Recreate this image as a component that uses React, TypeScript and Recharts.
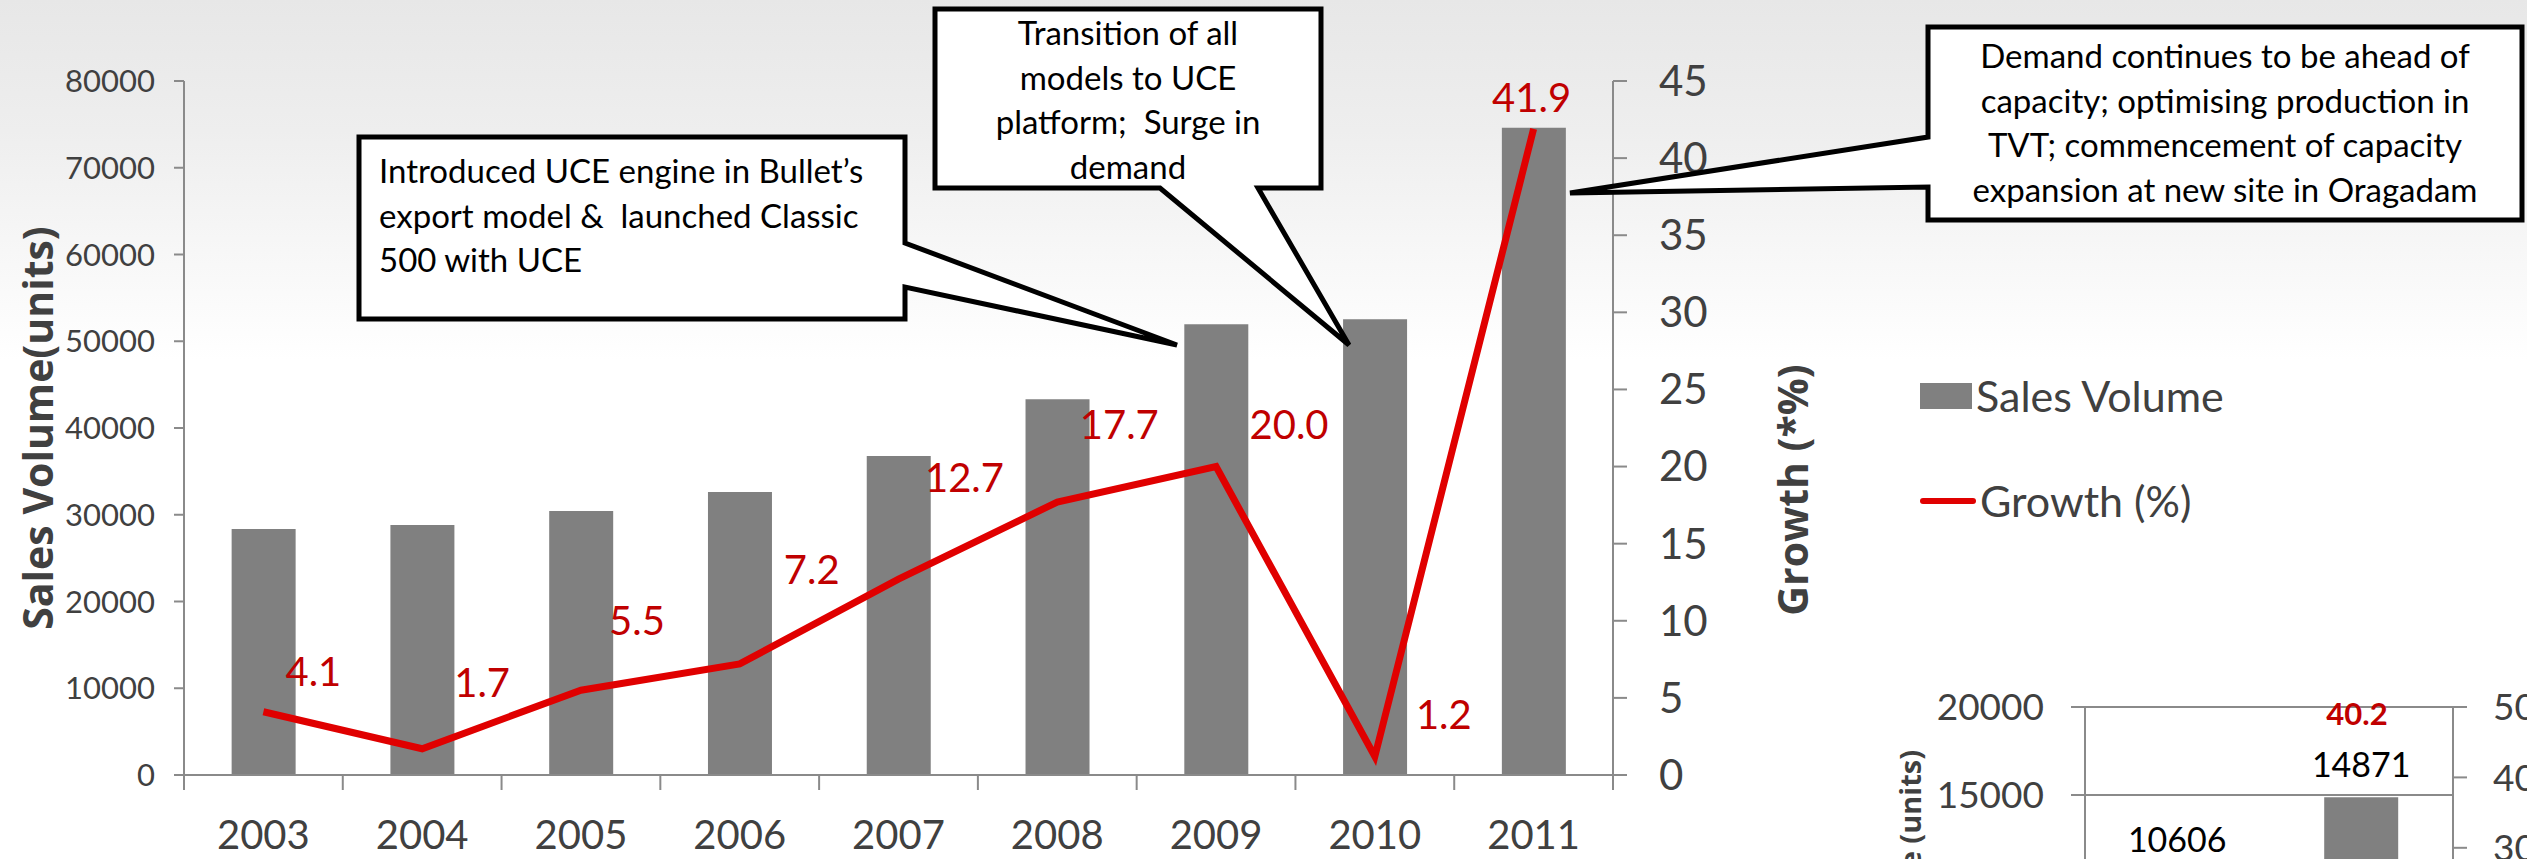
import React from "react";
import {
  Bar,
  CartesianGrid,
  ComposedChart,
  LabelList,
  Legend,
  Line,
  XAxis,
  YAxis,
} from "recharts";

// ---- data ----
const years = ["2003", "2004", "2005", "2006", "2007", "2008", "2009", "2010", "2011"];
const salesVolume = [28350, 28820, 30430, 32620, 36770, 43310, 51950, 52530, 74620];
const growthPct = [4.1, 1.7, 5.5, 7.2, 12.7, 17.7, 20.0, 1.2, 41.9];
const salesTicks = [0, 10000, 20000, 30000, 40000, 50000, 60000, 70000, 80000];
const growthTicks = [0, 5, 10, 15, 20, 25, 30, 35, 40, 45];

// second chart, mostly cut off by the slide edge
const miniPeriods = ["P1", "P2"];
const miniSales = [10606, 14871];
const miniGrowth = [null, 40.2];
const miniSalesTicks = [0, 5000, 10000, 15000, 20000];
const miniGrowthTicks = [0, 10, 20, 30, 40, 50];

// hand placed growth labels (dx, dy from the point), as on the slide
const growthLabelShift = [
  [50, -41], [60, -67], [56, -70], [72, -95], [66, -102],
  [62, -78], [73, -43], [69, -42], [-2, -32],
];

const W = 2527;
const H = 859;
const FONT = "Lato, 'Open Sans', Arial, sans-serif";
const TITLE_FONT = "'Open Sans', Lato, Arial, sans-serif";
const AXIS_GREY = "#8a8a8a";
const TEXT_GREY = "#404040";
const BAR_GREY = "#808080";
const LINE_RED = "#E00000";
const LABEL_RED = "#C00000";

// main plot box
const M_TOP = 81;
const M_LEFT = 84;
const LEFT_AXIS_W = 100;
const RIGHT_AXIS_W = 150;
const M_RIGHT = 764;
const X_AXIS_H = 84;
const PLOT_LEFT = M_LEFT + LEFT_AXIS_W;
const PLOT_RIGHT = W - M_RIGHT - RIGHT_AXIS_W;
const PLOT_BOTTOM = H - X_AXIS_H;
const BAND = (PLOT_RIGHT - PLOT_LEFT) / years.length;

const data = years.map((year, i) => ({
  year,
  sales: salesVolume[i],
  growth: growthPct[i],
}));

const miniData = miniPeriods.map((p, i) => ({
  period: p,
  sales: miniSales[i],
  growth: miniGrowth[i],
}));

const callouts = [
  {
    outline: [[359, 137], [905, 137], [905, 243], [1177, 345], [905, 287], [905, 319], [359, 319]],
    lines: ["Introduced UCE engine in Bullet\u2019s", "export model &  launched Classic", "500 with UCE"],
    anchor: "start",
    x: 379,
    y: 183,
  },
  {
    outline: [[935, 9], [1321, 9], [1321, 188], [1258, 188], [1349, 345], [1160, 188], [935, 188]],
    lines: ["Transition of all", "models to UCE", "platform;  Surge in", "demand"],
    anchor: "middle",
    x: 1128,
    y: 45,
  },
  {
    outline: [[1928, 27], [2522, 27], [2522, 220], [1928, 220], [1928, 187], [1570, 193], [1928, 137]],
    lines: [
      "Demand continues to be ahead of",
      "capacity; optimising production in",
      "TVT; commencement of capacity",
      "expansion at new site in Oragadam",
    ],
    anchor: "middle",
    x: 2225,
    y: 68,
  },
];

const YearTick = (props: any) => {
  const { x, payload } = props;
  const half = BAND / 2;
  const last = payload.value === years[years.length - 1];
  return (
    <g>
      <line x1={x - half} x2={x - half} y1={PLOT_BOTTOM} y2={PLOT_BOTTOM + 15} stroke={AXIS_GREY} strokeWidth={2} />
      {last && (
        <line x1={x + half} x2={x + half} y1={PLOT_BOTTOM} y2={PLOT_BOTTOM + 15} stroke={AXIS_GREY} strokeWidth={2} />
      )}
      <text x={x} y={849} textAnchor="middle" fontFamily={FONT} fontSize={40} fill={TEXT_GREY}>
        {payload.value}
      </text>
    </g>
  );
};

const GrowthLabel = (props: any) => {
  const { value } = props;
  if (value == null) return null;
  const px = props.x ?? props.viewBox?.x;
  const py = props.y ?? props.viewBox?.y;
  let i = typeof props.index === "number" ? props.index : growthPct.indexOf(value);
  if (i < 0) i = 0;
  const [dx, dy] = growthLabelShift[i];
  return (
    <text
      x={px + dx}
      y={py + dy}
      textAnchor="middle"
      dominantBaseline="central"
      fontFamily={FONT}
      fontSize={40}
      fill={LABEL_RED}
    >
      {Number(value).toFixed(1)}
    </text>
  );
};

const MiniGrowthLabel = (props: any) => {
  const { value } = props;
  if (value == null) return null;
  const px = props.x ?? props.viewBox?.x;
  const py = props.y ?? props.viewBox?.y;
  return (
    <text
      x={px - 4}
      y={py - 63}
      textAnchor="middle"
      dominantBaseline="central"
      fontFamily={FONT}
      fontSize={31}
      fontWeight="bold"
      fill={LABEL_RED}
    >
      {Number(value).toFixed(1)}
    </text>
  );
};

const LeftTitle = (props: any) => {
  const vb = props.viewBox;
  const cy = vb.y + vb.height / 2;
  return (
    <text
      x={53}
      y={cy}
      transform={`rotate(-90 53 ${cy})`}
      textAnchor="middle"
      fontFamily={TITLE_FONT}
      fontWeight="bold"
      fontSize={41}
      fill={TEXT_GREY}
    >
      Sales Volume(units)
    </text>
  );
};

const RightTitle = () => {
  const cx = 1808;
  const cy = 490;
  return (
    <text
      x={cx}
      y={cy}
      transform={`rotate(-90 ${cx} ${cy})`}
      textAnchor="middle"
      fontFamily={TITLE_FONT}
      fontWeight="bold"
      fontSize={41}
      fill={TEXT_GREY}
    >
      Growth (*%)
    </text>
  );
};

const MiniLeftTitle = (props: any) => {
  const x = props.viewBox.x + 21;
  const y = props.viewBox.y + 43;
  return (
    <text
      x={x}
      y={y}
      transform={`rotate(-90 ${x} ${y})`}
      textAnchor="end"
      fontFamily={TITLE_FONT}
      fontWeight="bold"
      fontSize={29}
      fill={TEXT_GREY}
    >
      Sales Volume (units)
    </text>
  );
};

const renderLegend = (props: any) => {
  const items = [...(props.payload || [])].sort(
    (a: any, b: any) => (a.type === "line" ? 1 : 0) - (b.type === "line" ? 1 : 0)
  );
  return (
    <div style={{ fontFamily: FONT, fontSize: 43, color: TEXT_GREY }}>
      {items.map((it: any, i: number) => (
        <div
          key={i}
          style={{ display: "flex", alignItems: "center", height: 60, marginBottom: i === 0 ? 45 : 0 }}
        >
          {it.type === "line" ? (
            <div style={{ width: 56, height: 6, borderRadius: 3, background: it.color }} />
          ) : (
            <div style={{ width: 52, height: 26, background: it.color }} />
          )}
          <span style={{ marginLeft: 4, lineHeight: "60px" }}>{it.value}</span>
        </div>
      ))}
    </div>
  );
};

const Callouts = () => (
  <svg
    width={W}
    height={H}
    style={{ position: "absolute", left: 0, top: 0, pointerEvents: "none" }}
  >
    {callouts.map((c, k) => (
      <g key={k}>
        <polygon
          points={c.outline.map((p) => p.join(",")).join(" ")}
          fill="#ffffff"
          stroke="#000000"
          strokeWidth={5}
          strokeLinejoin="miter"
        />
        {c.lines.map((ln, j) => (
          <text
            key={j}
            x={c.x}
            y={c.y + j * 44.5}
            textAnchor={c.anchor as any}
            fontFamily={FONT}
            fontSize={33}
            fill="#000000"
            style={{ whiteSpace: "pre" }}
          >
            {ln}
          </text>
        ))}
      </g>
    ))}
  </svg>
);

export default function App() {
  return (
    <div
      style={{
        position: "absolute",
        left: 0,
        top: 0,
        width: W,
        height: H,
        overflow: "hidden",
        background: "linear-gradient(to bottom, #e7e7e7 0px, #eeeeee 130px, #ffffff 360px)",
      }}
    >
      <div style={{ position: "absolute", left: 0, top: 0 }}>
        <ComposedChart
          width={W}
          height={H}
          data={data}
          margin={{ top: M_TOP, right: M_RIGHT, bottom: 0, left: M_LEFT }}
          barCategoryGap="30%"
        >
          <XAxis
            dataKey="year"
            height={X_AXIS_H}
            axisLine={{ stroke: AXIS_GREY, strokeWidth: 2 }}
            tickLine={false}
            tick={<YearTick />}
            interval={0}
          />
          <YAxis
            yAxisId="left"
            width={LEFT_AXIS_W}
            domain={[0, 80000]}
            ticks={salesTicks}
            interval={0}
            tickSize={10}
            tickMargin={19}
            axisLine={{ stroke: AXIS_GREY, strokeWidth: 2 }}
            tickLine={{ stroke: AXIS_GREY, strokeWidth: 2 }}
            tick={{ fill: TEXT_GREY, fontSize: 31, fontFamily: FONT }}
            label={<LeftTitle />}
          />
          <YAxis
            yAxisId="right"
            orientation="right"
            width={RIGHT_AXIS_W}
            domain={[0, 45]}
            ticks={growthTicks}
            interval={0}
            tickSize={14}
            tickMargin={32}
            axisLine={{ stroke: AXIS_GREY, strokeWidth: 2 }}
            tickLine={{ stroke: AXIS_GREY, strokeWidth: 2 }}
            tick={{ fill: TEXT_GREY, fontSize: 42, fontFamily: FONT }}
            label={<RightTitle />}
          />
          <Legend
            layout="horizontal"
            align="center"
            verticalAlign="middle"
            content={renderLegend}
            wrapperStyle={{ position: "absolute", left: 1920, top: 366, width: 420 }}
          />
          <Bar
            yAxisId="left"
            dataKey="sales"
            name="Sales Volume"
            fill={BAR_GREY}
            legendType="rect"
            isAnimationActive={false}
          />
          <Line
            yAxisId="right"
            dataKey="growth"
            name="Growth (%)"
            type="linear"
            stroke={LINE_RED}
            strokeWidth={7}
            dot={false}
            activeDot={false}
            legendType="line"
            isAnimationActive={false}
          >
            <LabelList dataKey="growth" content={<GrowthLabel />} />
          </Line>
        </ComposedChart>
      </div>

      <div style={{ position: "absolute", left: 1800, top: 680 }}>
        <ComposedChart
          width={727}
          height={379}
          data={miniData}
          margin={{ top: 27, right: 0, bottom: 0, left: 100 }}
          barCategoryGap="30%"
        >
          <CartesianGrid yAxisId="left" vertical={false} stroke={AXIS_GREY} strokeWidth={2} />
          <XAxis dataKey="period" hide />
          <YAxis
            yAxisId="left"
            width={185}
            domain={[0, 20000]}
            ticks={miniSalesTicks}
            interval={0}
            tickSize={14}
            tickMargin={27}
            axisLine={{ stroke: AXIS_GREY, strokeWidth: 2 }}
            tickLine={{ stroke: AXIS_GREY, strokeWidth: 2 }}
            tick={{ fill: TEXT_GREY, fontSize: 37, fontFamily: FONT }}
            label={<MiniLeftTitle />}
          />
          <YAxis
            yAxisId="right"
            orientation="right"
            width={74}
            domain={[0, 50]}
            ticks={miniGrowthTicks}
            interval={0}
            tickSize={14}
            tickMargin={26}
            axisLine={{ stroke: AXIS_GREY, strokeWidth: 2 }}
            tickLine={{ stroke: AXIS_GREY, strokeWidth: 2 }}
            tick={{ fill: TEXT_GREY, fontSize: 37, fontFamily: FONT }}
          />
          <Bar yAxisId="left" dataKey="sales" fill={BAR_GREY} isAnimationActive={false}>
            <LabelList
              dataKey="sales"
              position="top"
              offset={20}
              fill="#000000"
              fontSize={34}
              fontFamily={FONT}
            />
          </Bar>
          <Line
            yAxisId="right"
            dataKey="growth"
            stroke="none"
            dot={false}
            activeDot={false}
            isAnimationActive={false}
          >
            <LabelList dataKey="growth" content={<MiniGrowthLabel />} />
          </Line>
        </ComposedChart>
      </div>

      <Callouts />
    </div>
  );
}
